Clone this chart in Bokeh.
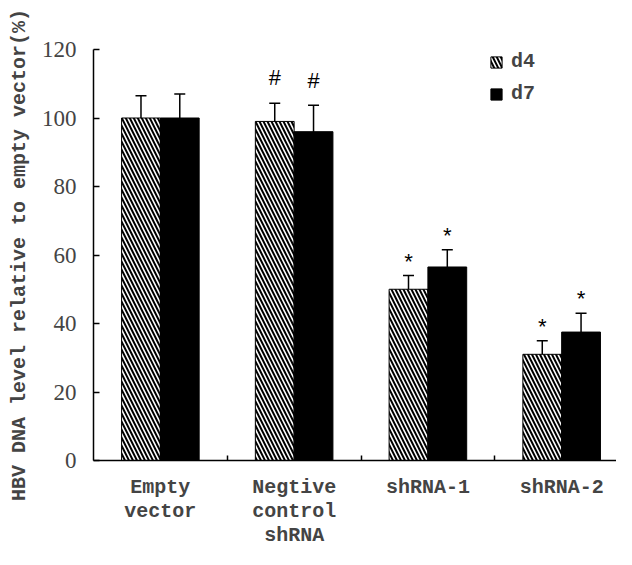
from bokeh.plotting import figure
from bokeh.models import (ColumnDataSource, Range1d, FixedTicker, Whisker, TeeHead,
                          Legend, LegendItem)
from bokeh.core.properties import value
from bokeh.embed import file_html
from bokeh.resources import INLINE

# ---- data ----
categories = ["Empty\nvector", "Negtive\ncontrol\nshRNA", "shRNA-1", "shRNA-2"]
d4_values = [100, 99, 50, 31]
d4_errors = [6.5, 5.3, 4, 4]
d7_values = [100, 96, 56.5, 37.5]
d7_errors = [7, 7.7, 5, 5.5]
d4_marks = ["", "#", "*", "*"]
d7_marks = ["", "#", "*", "*"]
y_ticks = [0, 20, 40, 60, 80, 100, 120]

MONO = "Liberation Mono"
n = len(categories)
centers = [i + 0.5 for i in range(n)]
dodge = 0.145
bw = 0.29
mark_gap = {"#": 6.8, "*": 3.3, "": 0.0}


def make_source(xs, vals, errs, marks):
    return ColumnDataSource(dict(
        x=xs, top=vals,
        upper=[v + e for v, e in zip(vals, errs)],
        lower=[v - e for v, e in zip(vals, errs)],
        mark=marks,
        my=[v + e + mark_gap[m] for v, e, m in zip(vals, errs, marks)]))


src4 = make_source([c - dodge for c in centers], d4_values, d4_errors, d4_marks)
src7 = make_source([c + dodge for c in centers], d7_values, d7_errors, d7_marks)

# the x axis runs off the right edge of the picture, as in the original
p = figure(width=616, height=549, output_backend="svg", toolbar_location=None,
           x_range=Range1d(0, 3.91), y_range=Range1d(0, 120),
           min_border_left=93, min_border_right=0, min_border_top=49, min_border_bottom=89)
p.outline_line_color = None
p.grid.visible = False

r4 = p.vbar(x="x", top="top", width=bw, bottom=0, source=src4,
            fill_color="white", line_color="black", line_width=1,
            hatch_pattern="left_diagonal_line", hatch_color="black",
            hatch_scale=8, hatch_weight=2)
r7 = p.vbar(x="x", top="top", width=bw, bottom=0, source=src7,
            fill_color="black", line_color="black", line_width=1)

for s in (src4, src7):
    w = Whisker(base="x", upper="upper", lower="lower", source=s,
                line_color="black", line_width=1.5,
                upper_head=TeeHead(size=11, line_width=1.5, line_color="black"),
                lower_head=TeeHead(size=11, line_width=1.5, line_color="black"))
    p.add_layout(w)
    p.text(x="x", y="my", text="mark", source=s, text_align="center",
           text_baseline="alphabetic", text_font=value(MONO),
           text_font_size="22px", text_color="black")

# axes
xa = p.xaxis[0]
xa.ticker = FixedTicker(ticks=centers, minor_ticks=[1, 2, 3])
xa.major_label_overrides = {c: lab for c, lab in zip(centers, categories)}
xa.major_tick_in = 0
xa.major_tick_out = 0
xa.minor_tick_in = 5
xa.minor_tick_out = 0
xa.axis_line_width = 1.5
xa.minor_tick_line_width = 1.5
xa.major_label_text_font = MONO
xa.major_label_text_font_size = "20px"
xa.major_label_text_font_style = "bold"
xa.major_label_standoff = 15
xa.major_label_text_line_height = 1.05

ya = p.yaxis[0]
ya.ticker = FixedTicker(ticks=y_ticks)
ya.major_tick_in = 6
ya.major_tick_out = 0
ya.minor_tick_line_color = None
ya.axis_line_width = 1.5
ya.major_tick_line_width = 1.5
ya.major_label_text_font = "Liberation Serif"
ya.major_label_text_font_size = "23px"
ya.major_label_standoff = 17
ya.axis_label = "HBV DNA level relative to empty vector(%)"
ya.axis_label_text_font = MONO
ya.axis_label_text_font_size = "20px"
ya.axis_label_text_font_style = "bold"
ya.axis_label_standoff = 8

legend = Legend(items=[LegendItem(label="d4", renderers=[r4]),
                       LegendItem(label="d7", renderers=[r7])],
                location=(396, 355), orientation="vertical",
                glyph_width=14, glyph_height=14, spacing=9, padding=0, margin=0,
                label_text_font=MONO, label_text_font_size="20px",
                label_text_font_style="bold", label_standoff=8,
                border_line_color=None, background_fill_alpha=0)
p.add_layout(legend)

open("out.html", "w").write(file_html(p, INLINE))
